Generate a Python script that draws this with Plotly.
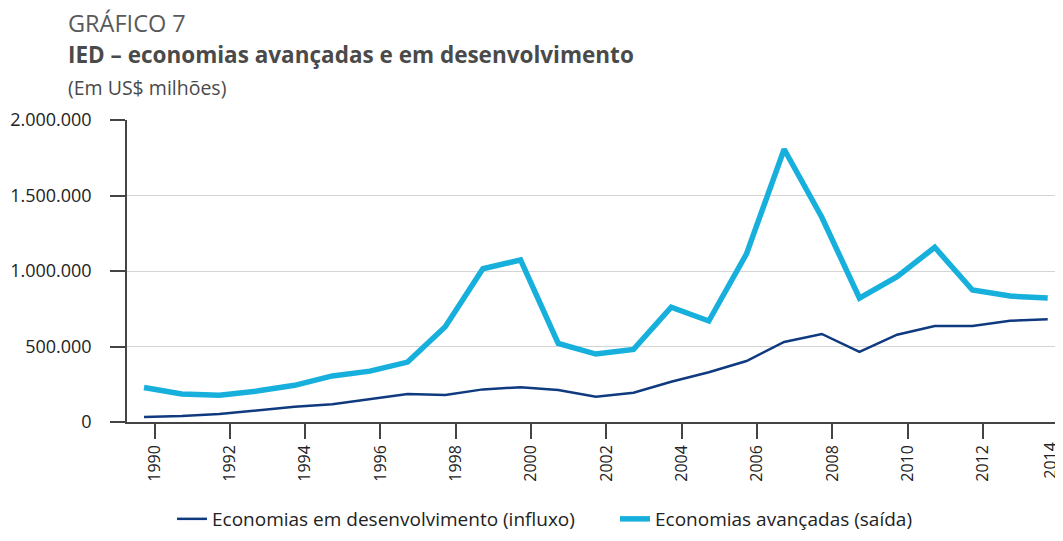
import plotly.graph_objects as go

years = list(range(1990, 2015))
desenvolvimento = [33000, 40000, 53000, 75000, 101000, 117000, 152000, 185000, 179000, 216000,
                   230000, 212000, 168000, 194000, 267000, 329000, 404000, 530000, 583000, 464000,
                   578000, 636000, 636000, 671000, 680000]
avancadas = [229000, 185000, 177000, 205000, 243000, 305000, 337000, 397000, 631000, 1015000,
             1073000, 521000, 450000, 481000, 760000, 669000, 1113000, 1806000, 1356000, 821000,
             962000, 1157000, 874000, 834000, 821000]
x_tick_years = list(range(1990, 2015, 2))
y_tick_values = [0, 500000, 1000000, 1500000, 2000000]
y_tick_labels = ["0", "500.000", "1.000.000", "1.500.000", "2.000.000"]

DARK = "#0f3a80"
LIGHT = "#17b0dd"
FONT = "Open Sans"
TICK_OFFSET = 0.28

fig = go.Figure()
fig.add_trace(go.Scatter(x=years, y=desenvolvimento, mode="lines",
                         name="Economias em desenvolvimento (influxo)",
                         line=dict(color=DARK, width=2.5)))
fig.add_trace(go.Scatter(x=years, y=avancadas, mode="lines",
                         name="Economias avançadas (saída)",
                         line=dict(color=LIGHT, width=5.5)))

# the page body adds an 8px margin, so the figure is sized and placed to compensate
OFF = 8
W, H = 1063 - OFF, 541 - OFF
L, R, T, B = 127 - OFF, 2, 120 - OFF, 119

fig.update_layout(
    width=W, height=H,
    margin=dict(l=L, r=R, t=T, b=B, autoexpand=False),
    paper_bgcolor="white", plot_bgcolor="white",
    font=dict(family=FONT, color="#222222"),
    showlegend=True,
    legend=dict(orientation="h", xref="container", yref="container",
                x=(172 - OFF) / W, xanchor="left", y=(541 - 519) / H, yanchor="middle",
                font=dict(size=19, color="#222222"),
                entrywidth=398, entrywidthmode="pixels",
                bgcolor="rgba(0,0,0,0)"),
)

# last label sits at the right edge; it is drawn nudged inward so it is not clipped
tick_text = [str(y) for y in x_tick_years]
last_label = tick_text[-1]
tick_text[-1] = ""

fig.update_xaxes(
    range=[1989.548, 2014.353],
    tickmode="array",
    tickvals=[y + TICK_OFFSET for y in x_tick_years],
    ticktext=tick_text,
    tickangle=-90,
    ticks="outside", ticklen=15, tickwidth=1.5, tickcolor="#444444",
    ticklabeloverflow="allow",
    automargin=False,
    showline=True, linecolor="#444444", linewidth=1.5,
    showgrid=False, zeroline=False,
    tickfont=dict(size=16, color="#222222"),
)
fig.update_yaxes(
    range=[0, 2000000],
    tickmode="array",
    tickvals=y_tick_values,
    ticktext=y_tick_labels,
    ticks="outside", ticklen=15, tickwidth=1.5, tickcolor="#444444",
    ticklabelstandoff=15,
    automargin=False,
    showline=True, linecolor="#444444", linewidth=1.5,
    showgrid=True, gridcolor="#d4d4d4", gridwidth=1.2,
    zeroline=False,
    tickfont=dict(size=18, color="#222222"),
)

fig.add_annotation(text=last_label, xref="x", yref="paper",
                   x=x_tick_years[-1] + TICK_OFFSET, y=0, xanchor="center", yanchor="top",
                   xshift=-9, yshift=-19, textangle=-90, showarrow=False, borderpad=0,
                   font=dict(family=FONT, size=16, color="#222222"))

def px_to_paper_x(px):
    return (px - OFF - L) / (W - L - R)

def px_to_paper_y(py):
    return (H - B - (py - OFF)) / (H - T - B)

fig.add_annotation(text="GRÁFICO 7", xref="paper", yref="paper",
                   x=px_to_paper_x(66), y=px_to_paper_y(23), xanchor="left", yanchor="middle",
                   showarrow=False, font=dict(family=FONT, size=23.5, color="#5a5a5a"))
fig.add_annotation(text="<b>IED – economias avançadas e em desenvolvimento</b>", xref="paper", yref="paper",
                   x=px_to_paper_x(66), y=px_to_paper_y(54), xanchor="left", yanchor="middle",
                   showarrow=False, font=dict(family=FONT, size=22.5, color="#4a4a4a"))
fig.add_annotation(text="(Em US$ milhões)", xref="paper", yref="paper",
                   x=px_to_paper_x(66), y=px_to_paper_y(88), xanchor="left", yanchor="middle",
                   showarrow=False, font=dict(family=FONT, size=19.5, color="#4a4a4a"))

fig.write_html("out.html")
